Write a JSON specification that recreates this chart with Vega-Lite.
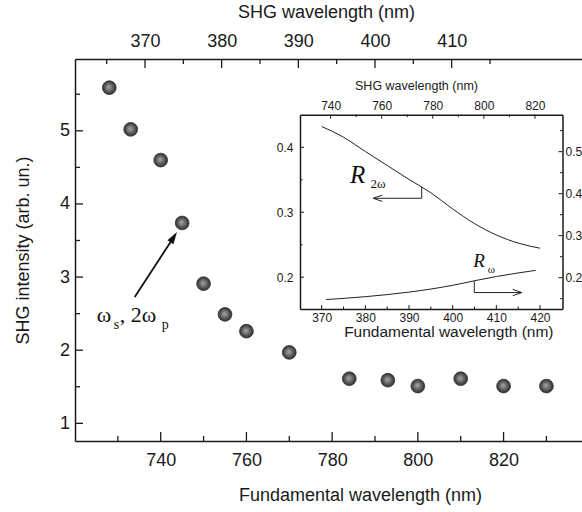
{
  "$schema": "https://vega.github.io/schema/vega-lite/v6.json",
  "autosize": {"type": "none"},
  "padding": {"left": 75, "top": 59, "right": 0, "bottom": 71},
  "width": 507,
  "height": 382,
  "config": {
    "view": {"stroke": null},
    "font": "Liberation Sans",
    "axis": {
      "grid": false,
      "ticks": false,
      "domainColor": "#1a1a1a",
      "labelColor": "#1a1a1a",
      "titleColor": "#1a1a1a",
      "labelFont": "Liberation Sans",
      "titleFont": "Liberation Sans",
      "titleFontWeight": "normal",
      "domainWidth": 1.5,
      "labelFlush": false,
      "labelOverlap": false
    }
  },
  "layer": [
    {
      "layer": [
        {
          "data": {"values": [
            {"x": 728, "y": 5.59}, {"x": 733, "y": 5.02}, {"x": 740, "y": 4.6},
            {"x": 745, "y": 3.74}, {"x": 750, "y": 2.91}, {"x": 755, "y": 2.49},
            {"x": 760, "y": 2.26}, {"x": 770, "y": 1.97}, {"x": 784, "y": 1.61},
            {"x": 793, "y": 1.59}, {"x": 800, "y": 1.51}, {"x": 810, "y": 1.61},
            {"x": 820, "y": 1.51}, {"x": 830, "y": 1.51}
          ]},
          "mark": {
            "type": "point", "filled": true, "size": 190, "opacity": 1,
            "fill": {"gradient": "radial", "x1": 0.45, "y1": 0.45, "r1": 0, "x2": 0.5, "y2": 0.5, "r2": 0.5,
              "stops": [{"offset": 0, "color": "#a8a8a8"}, {"offset": 0.6, "color": "#5e5e5e"}, {"offset": 1, "color": "#2e2e2e"}]},
            "stroke": "#333333", "strokeWidth": 0.8
          },
          "encoding": {
            "x": {
              "field": "x", "type": "quantitative",
              "scale": {"domain": [720, 838.3], "nice": false, "zero": false},
              "axis": {
                "orient": "bottom",
                "values": [740, 760, 780, 800, 820],
                "labelFontSize": 18,
                "labelPadding": 10.5,
                "title": "Fundamental wavelength (nm)",
                "titleFontSize": 18,
                "titleX": 285,
                "titleY": 59,
                "titleAlign": "center",
                "titleBaseline": "alphabetic"
              }
            },
            "y": {
              "field": "y", "type": "quantitative",
              "scale": {"domain": [0.7585, 5.982], "nice": false, "zero": false},
              "axis": {
                "orient": "left",
                "values": [1, 2, 3, 4, 5],
                "format": "d",
                "labelFontSize": 18,
                "labelPadding": 5.5,
                "title": "SHG intensity (arb. un.)",
                "titleFontSize": 18,
                "titleX": -52,
                "titleY": 191,
                "titleAngle": -90,
                "titleAlign": "center",
                "titleBaseline": "middle"
              }
            }
          }
        },
        {
          "data": {"values": [{"t": 740}, {"t": 760}, {"t": 780}, {"t": 800}, {"t": 820}]},
          "mark": {"type": "rule", "color": "#1a1a1a", "strokeWidth": 1.3, "y2Offset": -9},
          "encoding": {
            "x": {"field": "t", "type": "quantitative", "axis": null},
            "y": {"datum": 0.7585, "type": "quantitative", "axis": null},
            "y2": {"datum": 0.7585}
          }
        },
        {
          "data": {"values": [{"t": 730}, {"t": 750}, {"t": 770}, {"t": 790}, {"t": 810}, {"t": 830}]},
          "mark": {"type": "rule", "color": "#1a1a1a", "strokeWidth": 1.3, "y2Offset": -5},
          "encoding": {
            "x": {"field": "t", "type": "quantitative", "axis": null},
            "y": {"datum": 0.7585, "type": "quantitative", "axis": null},
            "y2": {"datum": 0.7585}
          }
        },
        {
          "data": {"values": [{"t": 1}, {"t": 2}, {"t": 3}, {"t": 4}, {"t": 5}]},
          "mark": {"type": "rule", "color": "#1a1a1a", "strokeWidth": 1.3, "x2Offset": 8},
          "encoding": {
            "y": {"field": "t", "type": "quantitative", "axis": null},
            "x": {"datum": 720, "type": "quantitative", "axis": null},
            "x2": {"datum": 720}
          }
        },
        {
          "data": {"values": [{"t": 1.5}, {"t": 2.5}, {"t": 3.5}, {"t": 4.5}, {"t": 5.5}]},
          "mark": {"type": "rule", "color": "#1a1a1a", "strokeWidth": 1.3, "x2Offset": 5},
          "encoding": {
            "y": {"field": "t", "type": "quantitative", "axis": null},
            "x": {"datum": 720, "type": "quantitative", "axis": null},
            "x2": {"datum": 720}
          }
        },
        {
          "data": {"values": [{"x": 733.94, "y": 2.727, "x2": 743.03, "y2": 3.546}]},
          "mark": {"type": "rule", "color": "#111111", "strokeWidth": 1.8},
          "encoding": {
            "x": {"field": "x", "type": "quantitative", "axis": null},
            "y": {"field": "y", "type": "quantitative", "axis": null},
            "x2": {"field": "x2"}, "y2": {"field": "y2"}
          }
        },
        {
          "data": {"values": [{"x": 743.03, "y": 3.546}]},
          "mark": {"type": "point", "shape": "M0,-1L0.6,1L-0.6,1Z", "filled": true, "color": "#111111", "opacity": 1, "size": 144, "angle": 33},
          "encoding": {
            "x": {"field": "x", "type": "quantitative", "axis": null},
            "y": {"field": "y", "type": "quantitative", "axis": null}
          }
        },
        {
          "data": {"values": [{"x": 725.07, "y": 2.39, "t": "ω"}, {"x": 730.44, "y": 2.39, "t": ", 2ω"}]},
          "mark": {"type": "text", "font": "Liberation Serif", "fontSize": 22, "align": "left", "baseline": "alphabetic", "color": "#111111"},
          "encoding": {
            "x": {"field": "x", "type": "quantitative", "axis": null},
            "y": {"field": "y", "type": "quantitative", "axis": null},
            "text": {"field": "t"}
          }
        },
        {
          "data": {"values": [{"x": 729.04, "y": 2.295, "t": "s"}, {"x": 740.23, "y": 2.295, "t": "p"}]},
          "mark": {"type": "text", "font": "Liberation Serif", "fontSize": 14, "align": "left", "baseline": "alphabetic", "color": "#111111"},
          "encoding": {
            "x": {"field": "x", "type": "quantitative", "axis": null},
            "y": {"field": "y", "type": "quantitative", "axis": null},
            "text": {"field": "t"}
          }
        }
      ],
      "resolve": {"axis": {"x": "independent", "y": "independent"}}
    },
    {
      "layer": [
        {
          "data": {"values": [{"s": 400}]},
          "mark": {"type": "point", "opacity": 0},
          "encoding": {
            "x": {
              "field": "s", "type": "quantitative",
              "scale": {"domain": [360.87, 427.0], "nice": false, "zero": false},
              "axis": {
                "orient": "top",
                "values": [370, 380, 390, 400, 410],
                "labelFontSize": 18,
                "labelPadding": 9,
                "title": "SHG wavelength (nm)",
                "titleFontSize": 18,
                "titleX": 251,
                "titleY": -41.5,
                "titleAlign": "center",
                "titleBaseline": "alphabetic"
              }
            }
          }
        },
        {
          "data": {"values": [{"t": 370}, {"t": 380}, {"t": 390}, {"t": 400}, {"t": 410}]},
          "mark": {"type": "rule", "color": "#1a1a1a", "strokeWidth": 1.3, "y2Offset": 9},
          "encoding": {
            "x": {"field": "t", "type": "quantitative", "axis": null},
            "y": {"datum": 1, "type": "quantitative", "scale": {"domain": [0, 1], "nice": false, "zero": false}, "axis": null},
            "y2": {"datum": 1}
          }
        },
        {
          "data": {"values": [{"t": 365}, {"t": 375}, {"t": 385}, {"t": 395}, {"t": 405}, {"t": 415}]},
          "mark": {"type": "rule", "color": "#1a1a1a", "strokeWidth": 1.3, "y2Offset": 5},
          "encoding": {
            "x": {"field": "t", "type": "quantitative", "axis": null},
            "y": {"datum": 1, "type": "quantitative", "scale": {"domain": [0, 1], "nice": false, "zero": false}, "axis": null},
            "y2": {"datum": 1}
          }
        }
      ],
      "resolve": {"axis": {"x": "independent"}}
    },
    {
      "layer": [
        {
          "layer": [
            {
              "data": {"values": [
                {"x": 370, "y": 0.432, "c": "R2w"}, {"x": 375, "y": 0.4155, "c": "R2w"}, {"x": 380, "y": 0.3935, "c": "R2w"},
                {"x": 385, "y": 0.372, "c": "R2w"}, {"x": 390, "y": 0.3505, "c": "R2w"}, {"x": 395, "y": 0.33, "c": "R2w"},
                {"x": 400, "y": 0.305, "c": "R2w"}, {"x": 405, "y": 0.2825, "c": "R2w"}, {"x": 410, "y": 0.265, "c": "R2w"},
                {"x": 415, "y": 0.2525, "c": "R2w"}, {"x": 420, "y": 0.2446, "c": "R2w"},
                {"x": 371, "y": 0.1655, "c": "Rw"}, {"x": 380, "y": 0.170, "c": "Rw"}, {"x": 390, "y": 0.177, "c": "Rw"},
                {"x": 400, "y": 0.1875, "c": "Rw"}, {"x": 405, "y": 0.1945, "c": "Rw"}, {"x": 410, "y": 0.201, "c": "Rw"},
                {"x": 419, "y": 0.2105, "c": "Rw"}
              ]},
              "mark": {"type": "line", "interpolate": "monotone", "color": "#222222", "strokeWidth": 1},
              "encoding": {
                "x": {
                  "field": "x", "type": "quantitative",
                  "scale": {"domain": [365.03, 425.15], "range": [225, 487.5], "nice": false, "zero": false},
                  "axis": {
                    "orient": "bottom", "offset": -132,
                    "values": [370, 380, 390, 400, 410, 420],
                    "labelFontSize": 12,
                    "labelPadding": 3,
                    "domainWidth": 1.5,
                    "title": "Fundamental wavelength (nm)",
                    "titleFontSize": 15.5,
                    "titleX": 373.3,
                    "titleY": 27.5,
                    "titleAlign": "center",
                    "titleBaseline": "alphabetic"
                  }
                },
                "y": {
                  "field": "y", "type": "quantitative",
                  "scale": {"domain": [0.151, 0.4502], "range": [250, 55.7], "nice": false, "zero": false},
                  "axis": {
                    "orient": "left", "offset": -225,
                    "values": [0.2, 0.3, 0.4],
                    "format": ".1f",
                    "labelFontSize": 12,
                    "labelPadding": 7,
                    "domainWidth": 1.5,
                    "title": null
                  }
                },
                "detail": {"field": "c"}
              }
            },
            {
              "data": {"values": [{"t": 370}, {"t": 380}, {"t": 390}, {"t": 400}, {"t": 410}, {"t": 420}]},
              "mark": {"type": "rule", "color": "#1a1a1a", "strokeWidth": 1, "y2Offset": -4},
              "encoding": {
                "x": {"field": "t", "type": "quantitative", "axis": null},
                "y": {"datum": 0.151, "type": "quantitative", "axis": null},
                "y2": {"datum": 0.151}
              }
            },
            {
              "data": {"values": [{"t": 375}, {"t": 385}, {"t": 395}, {"t": 405}, {"t": 415}]},
              "mark": {"type": "rule", "color": "#1a1a1a", "strokeWidth": 1, "y2Offset": -2.5},
              "encoding": {
                "x": {"field": "t", "type": "quantitative", "axis": null},
                "y": {"datum": 0.151, "type": "quantitative", "axis": null},
                "y2": {"datum": 0.151}
              }
            },
            {
              "data": {"values": [{"t": 0.2}, {"t": 0.3}, {"t": 0.4}]},
              "mark": {"type": "rule", "color": "#1a1a1a", "strokeWidth": 1, "x2Offset": 4},
              "encoding": {
                "y": {"field": "t", "type": "quantitative", "axis": null},
                "x": {"datum": 365.03, "type": "quantitative", "axis": null},
                "x2": {"datum": 365.03}
              }
            },
            {
              "data": {"values": [{"t": 0.25}, {"t": 0.35}]},
              "mark": {"type": "rule", "color": "#1a1a1a", "strokeWidth": 1, "x2Offset": 2.5},
              "encoding": {
                "y": {"field": "t", "type": "quantitative", "axis": null},
                "x": {"datum": 365.03, "type": "quantitative", "axis": null},
                "x2": {"datum": 365.03}
              }
            },
            {
              "data": {"values": [
                {"x": 392.9, "y": 0.339, "x2": 392.9, "y2": 0.3215},
                {"x": 392.9, "y": 0.3215, "x2": 381.82, "y2": 0.3215},
                {"x": 404.95, "y": 0.1945, "x2": 404.95, "y2": 0.1763},
                {"x": 404.95, "y": 0.1763, "x2": 415.81, "y2": 0.1763}
              ]},
              "mark": {"type": "rule", "color": "#222222", "strokeWidth": 1},
              "encoding": {
                "x": {"field": "x", "type": "quantitative", "axis": null},
                "y": {"field": "y", "type": "quantitative", "axis": null},
                "x2": {"field": "x2"}, "y2": {"field": "y2"}
              }
            },
            {
              "data": {"values": [{"x": 382.85, "y": 0.3215}]},
              "mark": {"type": "point", "shape": "M1,-0.7L-1,0L1,0.7", "filled": false, "stroke": "#222222", "strokeWidth": 1, "opacity": 1, "size": 81},
              "encoding": {
                "x": {"field": "x", "type": "quantitative", "axis": null},
                "y": {"field": "y", "type": "quantitative", "axis": null}
              }
            },
            {
              "data": {"values": [{"x": 414.78, "y": 0.1763}]},
              "mark": {"type": "point", "shape": "M-1,-0.7L1,0L-1,0.7", "filled": false, "stroke": "#222222", "strokeWidth": 1, "opacity": 1, "size": 81},
              "encoding": {
                "x": {"field": "x", "type": "quantitative", "axis": null},
                "y": {"field": "y", "type": "quantitative", "axis": null}
              }
            },
            {
              "data": {"values": [{"x": 376.46, "y": 0.3446, "t": "R"}]},
              "mark": {"type": "text", "font": "Liberation Serif", "fontStyle": "italic", "fontSize": 25, "align": "left", "baseline": "alphabetic", "color": "#111111"},
              "encoding": {
                "x": {"field": "x", "type": "quantitative", "axis": null},
                "y": {"field": "y", "type": "quantitative", "axis": null},
                "text": {"field": "t"}
              }
            },
            {
              "data": {"values": [{"x": 404.7, "y": 0.2163, "t": "R"}]},
              "mark": {"type": "text", "font": "Liberation Serif", "fontStyle": "italic", "fontSize": 19, "align": "left", "baseline": "alphabetic", "color": "#111111"},
              "encoding": {
                "x": {"field": "x", "type": "quantitative", "axis": null},
                "y": {"field": "y", "type": "quantitative", "axis": null},
                "text": {"field": "t"}
              }
            },
            {
              "data": {"values": [{"x": 381.18, "y": 0.3369, "t": "2ω"}]},
              "mark": {"type": "text", "font": "Liberation Serif", "fontSize": 13, "align": "left", "baseline": "alphabetic", "color": "#111111"},
              "encoding": {
                "x": {"field": "x", "type": "quantitative", "axis": null},
                "y": {"field": "y", "type": "quantitative", "axis": null},
                "text": {"field": "t"}
              }
            },
            {
              "data": {"values": [{"x": 408.02, "y": 0.2066, "t": "ω"}]},
              "mark": {"type": "text", "font": "Liberation Serif", "fontSize": 11, "align": "left", "baseline": "alphabetic", "color": "#111111"},
              "encoding": {
                "x": {"field": "x", "type": "quantitative", "axis": null},
                "y": {"field": "y", "type": "quantitative", "axis": null},
                "text": {"field": "t"}
              }
            }
          ],
          "resolve": {"axis": {"x": "independent", "y": "independent"}}
        },
        {
          "layer": [
            {
              "data": {"values": [{"v": 780}]},
              "mark": {"type": "point", "opacity": 0},
              "encoding": {
                "x": {
                  "field": "v", "type": "quantitative",
                  "scale": {"domain": [728, 830.8], "range": [225, 487.5], "nice": false, "zero": false},
                  "axis": {
                    "orient": "top", "offset": -55.7,
                    "values": [740, 760, 780, 800, 820],
                    "labelFontSize": 12,
                    "labelPadding": 2,
                    "domainWidth": 1.5,
                    "title": "SHG wavelength (nm)",
                    "titleFontSize": 12.5,
                    "titleX": 341,
                    "titleY": -25.5,
                    "titleAlign": "center",
                    "titleBaseline": "alphabetic"
                  }
                }
              }
            },
            {
              "data": {"values": [{"t": 740}, {"t": 760}, {"t": 780}, {"t": 800}, {"t": 820}]},
              "mark": {"type": "rule", "color": "#1a1a1a", "strokeWidth": 1, "y2Offset": 4},
              "encoding": {
                "x": {"field": "t", "type": "quantitative", "axis": null},
                "y": {"datum": 0.4502, "type": "quantitative", "scale": {"domain": [0.151, 0.4502], "range": [250, 55.7], "nice": false, "zero": false}, "axis": null},
                "y2": {"datum": 0.4502}
              }
            },
            {
              "data": {"values": [{"t": 750}, {"t": 770}, {"t": 790}, {"t": 810}]},
              "mark": {"type": "rule", "color": "#1a1a1a", "strokeWidth": 1, "y2Offset": 2.5},
              "encoding": {
                "x": {"field": "t", "type": "quantitative", "axis": null},
                "y": {"datum": 0.4502, "type": "quantitative", "scale": {"domain": [0.151, 0.4502], "range": [250, 55.7], "nice": false, "zero": false}, "axis": null},
                "y2": {"datum": 0.4502}
              }
            }
          ],
          "resolve": {"axis": {"x": "independent"}}
        },
        {
          "layer": [
            {
              "data": {"values": [{"v": 0.3}]},
              "mark": {"type": "point", "opacity": 0},
              "encoding": {
                "y": {
                  "field": "v", "type": "quantitative",
                  "scale": {"domain": [0.1255, 0.588], "range": [250, 55.7], "nice": false, "zero": false},
                  "axis": {
                    "orient": "right", "offset": -19.5,
                    "values": [0.2, 0.3, 0.4, 0.5],
                    "format": ".1f",
                    "labelFontSize": 12,
                    "labelPadding": 2.5,
                    "domainWidth": 1.5,
                    "title": null
                  }
                }
              }
            },
            {
              "data": {"values": [{"t": 0.2}, {"t": 0.3}, {"t": 0.4}, {"t": 0.5}]},
              "mark": {"type": "rule", "color": "#1a1a1a", "strokeWidth": 1, "x2Offset": -4},
              "encoding": {
                "y": {"field": "t", "type": "quantitative", "axis": null},
                "x": {"datum": 425.15, "type": "quantitative", "scale": {"domain": [365.03, 425.15], "range": [225, 487.5], "nice": false, "zero": false}, "axis": null},
                "x2": {"datum": 425.15}
              }
            },
            {
              "data": {"values": [{"t": 0.15}, {"t": 0.25}, {"t": 0.35}, {"t": 0.45}, {"t": 0.55}]},
              "mark": {"type": "rule", "color": "#1a1a1a", "strokeWidth": 1, "x2Offset": -2.5},
              "encoding": {
                "y": {"field": "t", "type": "quantitative", "axis": null},
                "x": {"datum": 425.15, "type": "quantitative", "scale": {"domain": [365.03, 425.15], "range": [225, 487.5], "nice": false, "zero": false}, "axis": null},
                "x2": {"datum": 425.15}
              }
            }
          ],
          "resolve": {"axis": {"y": "independent"}}
        }
      ],
      "resolve": {"scale": {"x": "independent", "y": "independent"}}
    }
  ],
  "resolve": {"scale": {"x": "independent", "y": "independent"}}
}
